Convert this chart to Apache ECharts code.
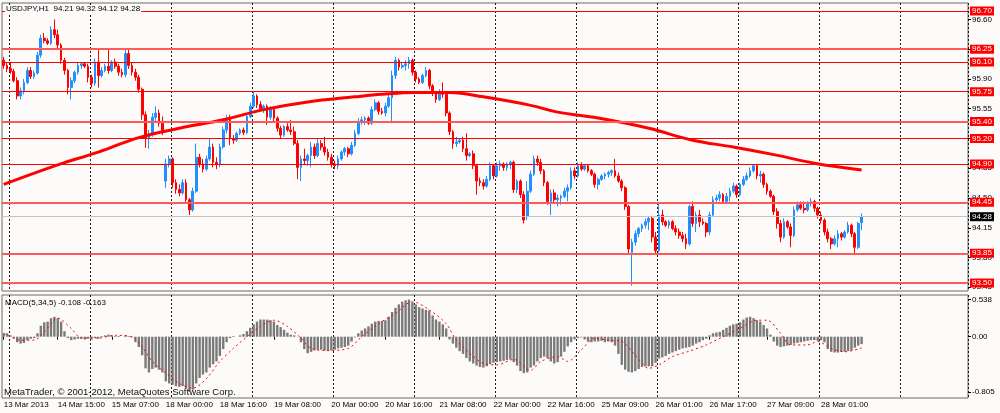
<!DOCTYPE html>
<html>
<head>
<meta charset="utf-8">
<script src="https://cdn.jsdelivr.net/npm/echarts@6/dist/echarts.min.js"></script>
<style>
    html, body { margin: 0; padding: 0; background: #fdfbf9; }
    #chart { width: 1000px; height: 413px; }
</style>
</head>
<body>
<div id="chart"></div>
<script>
// USDJPY H1 bars: [open, high, low, close]
var bars = [
    [96.12,96.16,96.02,96.06],[96.06,96.10,95.98,96.02],[96.02,96.09,95.96,95.99],[95.99,96.02,95.86,95.88],
    [95.88,95.92,95.66,95.70],[95.70,95.80,95.66,95.76],[95.76,95.90,95.72,95.86],[95.86,96.04,95.84,96.00],
    [96.00,96.04,95.90,95.93],[95.93,96.00,95.90,95.97],[95.97,96.22,95.95,96.18],[96.18,96.42,96.15,96.38],
    [96.38,96.44,96.32,96.35],[96.35,96.38,96.30,96.32],[96.32,96.52,96.30,96.48],[96.48,96.60,96.38,96.42],
    [96.42,96.48,96.26,96.30],[96.30,96.32,96.08,96.12],[96.12,96.15,95.95,96.00],[96.00,96.02,95.72,95.80],
    [95.80,95.92,95.66,95.88],[95.88,96.00,95.85,95.98],[95.98,96.10,95.95,96.06],[96.06,96.10,96.02,96.08],
    [96.08,96.10,96.03,96.05],[96.05,96.08,95.86,95.92],[95.92,95.95,95.80,95.85],[95.85,96.14,95.82,96.10],
    [96.10,96.24,95.80,95.94],[95.94,96.04,95.92,96.00],[96.00,96.08,95.98,96.05],[96.05,96.25,95.96,96.00],
    [96.00,96.12,95.98,96.10],[96.10,96.14,96.02,96.05],[96.05,96.08,95.94,95.98],[95.98,96.02,95.92,95.95],
    [95.95,96.24,95.92,96.20],[96.20,96.26,96.02,96.06],[96.06,96.10,95.94,95.98],[95.98,96.02,95.88,95.92],
    [95.92,95.95,95.74,95.78],[95.78,95.80,95.42,95.48],[95.48,95.52,95.09,95.20],[95.20,95.30,95.08,95.26],
    [95.26,95.50,95.22,95.45],[95.45,95.58,95.40,95.50],[95.50,95.54,95.34,95.38],[95.38,95.46,95.24,95.28],
    // 18 Mar
    [94.70,94.96,94.62,94.90],[94.90,95.00,94.86,94.96],[94.96,94.98,94.62,94.68],[94.68,94.72,94.55,94.60],
    [94.60,94.66,94.52,94.56],[94.56,94.72,94.54,94.68],[94.68,94.72,94.44,94.48],[94.48,94.50,94.30,94.36],
    [94.36,94.62,94.34,94.58],[94.58,95.14,94.56,94.98],[94.98,95.02,94.86,94.90],[94.90,94.96,94.80,94.84],
    [94.84,95.00,94.82,94.96],[94.96,95.20,94.94,95.10],[95.10,95.14,94.86,94.92],[94.92,94.98,94.84,94.90],
    [94.90,95.14,94.86,95.10],[95.10,95.34,95.08,95.30],[95.30,95.48,95.26,95.44],[95.44,95.48,95.12,95.20],
    [95.20,95.24,95.14,95.18],[95.18,95.28,95.16,95.26],[95.26,95.32,95.24,95.30],[95.30,95.33,95.24,95.27],
    [95.27,95.50,95.25,95.46],[95.46,95.62,95.44,95.58],[95.58,95.76,95.56,95.70],[95.70,95.72,95.56,95.60],
    [95.60,95.64,95.52,95.55],[95.55,95.60,95.50,95.58],[95.58,95.60,95.36,95.45],[95.45,95.58,95.42,95.54],
    [95.54,95.56,95.40,95.44],[95.44,95.46,95.28,95.32],[95.32,95.35,95.20,95.24],[95.24,95.36,95.22,95.34],
    [95.34,95.38,95.28,95.30],[95.30,95.42,95.24,95.28],[95.28,95.34,95.12,95.14],[95.14,95.18,94.72,94.86],
    [94.86,95.00,94.70,94.96],[94.96,95.08,94.90,94.94],[94.94,95.02,94.88,95.00],[95.00,95.16,94.86,95.10],
    [95.10,95.14,94.96,95.00],[95.00,95.20,94.98,95.14],[95.14,95.18,95.06,95.10],[95.10,95.22,95.00,95.04],
    [95.04,95.08,94.94,94.98],[94.98,95.02,94.86,94.90],[94.90,94.94,94.84,94.88],[94.88,95.00,94.84,94.96],
    [94.96,95.06,94.94,95.04],[95.04,95.10,95.00,95.08],
    // 20 Mar
    [95.08,95.10,94.98,95.02],[95.02,95.16,95.00,95.12],[95.12,95.30,95.10,95.26],[95.26,95.44,95.24,95.40],
    [95.40,95.46,95.36,95.42],[95.42,95.46,95.36,95.44],[95.44,95.46,95.36,95.38],[95.38,95.58,95.36,95.54],
    [95.54,95.66,95.52,95.62],[95.62,95.64,95.48,95.52],[95.52,95.56,95.48,95.50],[95.50,95.62,95.46,95.58],
    [95.58,95.72,95.56,95.68],[95.68,96.00,95.38,95.94],[95.94,96.16,95.90,96.12],[96.12,96.14,96.00,96.04],
    [96.04,96.10,96.02,96.06],[96.06,96.12,96.00,96.08],[96.08,96.16,96.02,96.12],[96.12,96.14,95.94,95.98],
    [95.98,96.00,95.86,95.90],[95.90,95.92,95.84,95.86],[95.86,95.96,95.84,95.94],[95.94,96.04,95.92,96.00],
    [96.00,96.02,95.78,95.82],[95.82,95.84,95.70,95.74],[95.74,95.76,95.62,95.66],[95.66,95.78,95.64,95.74],
    [95.74,95.86,95.68,95.72],[95.72,95.74,95.46,95.50],[95.50,95.52,95.24,95.28],[95.28,95.30,95.08,95.14],
    [95.14,95.22,95.10,95.16],[95.16,95.20,95.14,95.18],[95.18,95.22,95.04,95.08],[95.08,95.26,94.94,95.00],
    [95.00,95.04,94.98,95.02],[95.02,95.06,94.84,94.88],[94.88,94.90,94.54,94.70],[94.70,94.74,94.64,94.68],
    [94.68,94.72,94.60,94.64],[94.64,94.76,94.62,94.72],[94.72,94.92,94.70,94.88],[94.88,94.90,94.72,94.76],
    [94.76,94.92,94.74,94.88],[94.88,94.94,94.82,94.90],[94.90,94.92,94.82,94.86],[94.86,94.92,94.82,94.90],
    [94.90,94.94,94.84,94.92],[94.92,94.94,94.56,94.60],[94.60,94.72,94.56,94.70],[94.70,94.72,94.50,94.54],
    [94.54,94.58,94.20,94.24],
    // 22 Mar afternoon
    [94.28,94.70,94.24,94.58],[94.58,94.82,94.56,94.78],[94.78,95.00,94.76,94.96],[94.96,95.00,94.88,94.92],
    [94.92,94.96,94.78,94.82],[94.82,94.84,94.64,94.68],[94.68,94.70,94.42,94.46],[94.46,94.60,94.30,94.56],
    [94.56,94.60,94.44,94.48],[94.48,94.54,94.40,94.50],[94.50,94.54,94.42,94.52],[94.52,94.62,94.50,94.58],
    [94.58,94.66,94.46,94.62],[94.62,94.86,94.60,94.82],[94.82,94.86,94.72,94.76],[94.76,94.92,94.74,94.88],
    [94.88,94.92,94.82,94.84],[94.84,94.90,94.82,94.88],[94.88,94.90,94.80,94.82],[94.82,94.84,94.76,94.78],
    [94.78,94.80,94.62,94.66],[94.66,94.74,94.60,94.72],[94.72,94.78,94.70,94.76],[94.76,94.80,94.72,94.78],
    [94.78,94.82,94.74,94.80],[94.80,94.84,94.76,94.82],[94.82,94.96,94.74,94.76],[94.76,94.80,94.68,94.70],
    [94.70,94.72,94.58,94.62],[94.62,94.64,94.36,94.40],[94.40,94.42,93.84,93.90],[93.86,94.02,93.47,93.98],
    [93.98,94.12,93.94,94.08],[94.08,94.16,94.04,94.14],[94.14,94.20,94.10,94.18],[94.18,94.26,94.14,94.22],
    [94.22,94.28,94.12,94.26],[94.26,94.28,93.98,94.04],[94.04,94.10,93.84,93.88],[93.88,94.44,93.86,94.30],
    [94.30,94.36,94.18,94.22],[94.22,94.24,94.16,94.18],[94.18,94.24,94.14,94.22],[94.22,94.24,94.12,94.14],
    [94.14,94.18,94.06,94.10],[94.10,94.14,94.02,94.06],[94.06,94.10,93.98,94.02],[94.02,94.08,93.90,93.96],
    [93.96,94.42,93.94,94.40],[94.40,94.46,94.16,94.20],[94.20,94.34,94.10,94.30],[94.30,94.36,94.16,94.22],
    [94.22,94.26,94.18,94.20],[94.20,94.22,94.04,94.10],[94.10,94.34,94.06,94.30],[94.30,94.52,94.28,94.48],
    [94.48,94.54,94.44,94.50],[94.50,94.58,94.46,94.54],[94.54,94.56,94.44,94.46],[94.46,94.56,94.44,94.52],
    [94.52,94.62,94.46,94.58],[94.58,94.68,94.56,94.64],[94.64,94.66,94.50,94.54],[94.54,94.68,94.52,94.66],
    [94.66,94.76,94.64,94.72],[94.72,94.80,94.70,94.76],[94.76,94.86,94.74,94.82],[94.82,94.90,94.80,94.88],
    [94.88,94.90,94.72,94.76],[94.76,94.82,94.68,94.78],[94.78,94.80,94.62,94.66],[94.66,94.68,94.54,94.58],
    [94.58,94.60,94.50,94.52],[94.52,94.54,94.30,94.34],[94.34,94.38,94.14,94.20],[94.20,94.24,93.98,94.04],
    [94.04,94.26,94.02,94.22],[94.22,94.24,94.14,94.16],[94.16,94.20,93.92,94.06],[94.06,94.40,94.04,94.36],
    [94.36,94.46,94.34,94.42],[94.42,94.46,94.36,94.38],[94.38,94.46,94.32,94.36],[94.36,94.46,94.34,94.44],
    [94.44,94.50,94.40,94.46],[94.46,94.48,94.34,94.38],[94.38,94.40,94.26,94.30],[94.30,94.34,94.20,94.24],
    [94.24,94.26,94.06,94.10],[94.10,94.14,93.98,94.02],[94.02,94.04,93.90,93.96],[93.96,94.06,93.94,94.02],
    [94.02,94.12,93.92,94.08],[94.08,94.10,94.00,94.04],[94.04,94.12,94.02,94.10],[94.10,94.22,94.08,94.18],
    [94.18,94.20,94.04,94.08],[94.08,94.10,93.84,93.92],[93.92,94.22,93.90,94.20],[94.21,94.32,94.12,94.28]
];

// thick red moving average, sampled at bar index
var maPoints = [
    [0,94.66],[16,94.89],[28,95.04],[40,95.21],[52,95.32],[65,95.42],[77,95.54],[90,95.63],
    [104,95.69],[112,95.72],[122,95.74],[132,95.74],[142,95.69],[156,95.59],[164,95.51],[176,95.44],
    [191,95.32],[204,95.18],[216,95.10],[228,95.01],[240,94.91],[254,94.83]
];

// MACD(5,34,5) histogram, one per bar
var macdHist = [
    0.05,0.05,0.02,-0.02,-0.08,-0.10,-0.09,-0.05,-0.03,-0.02,
    0.05,0.16,0.21,0.22,0.27,0.29,0.27,0.22,0.08,-0.02,
    -0.05,-0.04,-0.03,-0.03,-0.04,-0.03,-0.04,-0.02,-0.03,0.01,
    0.02,0.03,0.02,0.01,0.01,0.00,0.02,0.01,-0.01,-0.08,
    -0.15,-0.27,-0.46,-0.52,-0.47,-0.45,-0.48,-0.52,-0.65,-0.68,
    -0.70,-0.72,-0.73,-0.72,-0.75,-0.80,-0.77,-0.68,-0.60,-0.55,
    -0.52,-0.45,-0.40,-0.36,-0.28,-0.18,-0.08,-0.02,0.01,0.00,
    0.02,0.04,0.08,0.13,0.18,0.22,0.25,0.25,0.25,0.24,
    0.22,0.17,0.14,0.10,0.06,0.03,0.02,0.00,-0.08,-0.18,
    -0.24,-0.22,-0.20,-0.19,-0.19,-0.20,-0.21,-0.20,-0.19,-0.17,
    -0.16,-0.15,-0.13,-0.07,-0.01,0.05,0.09,0.12,0.15,0.19,
    0.22,0.23,0.23,0.24,0.29,0.36,0.42,0.47,0.51,0.53,
    0.54,0.50,0.47,0.43,0.41,0.39,0.38,0.31,0.25,0.22,
    0.18,0.12,-0.04,-0.10,-0.16,-0.21,-0.25,-0.31,-0.36,-0.39,
    -0.42,-0.44,-0.45,-0.43,-0.40,-0.38,-0.37,-0.36,-0.35,-0.34,
    -0.33,-0.37,-0.42,-0.50,-0.53,-0.52,-0.45,-0.42,-0.36,-0.31,
    -0.29,-0.31,-0.36,-0.39,-0.37,-0.29,-0.22,-0.14,-0.08,-0.04,
    -0.02,-0.01,-0.04,-0.07,-0.08,-0.07,-0.07,-0.06,-0.08,-0.07,
    -0.08,-0.13,-0.25,-0.41,-0.48,-0.51,-0.52,-0.50,-0.47,-0.44,
    -0.43,-0.43,-0.43,-0.38,-0.32,-0.30,-0.28,-0.25,-0.23,-0.21,
    -0.19,-0.17,-0.16,-0.15,-0.13,-0.10,-0.08,-0.05,-0.03,0.02,
    0.05,0.06,0.07,0.10,0.13,0.16,0.18,0.19,0.21,0.25,
    0.28,0.29,0.27,0.24,0.22,0.17,0.12,0.03,-0.07,-0.13,
    -0.15,-0.14,-0.13,-0.12,-0.10,-0.09,-0.08,-0.07,-0.06,-0.05,
    -0.05,-0.06,-0.05,-0.08,-0.18,-0.22,-0.23,-0.23,-0.22,-0.22,
    -0.21,-0.20,-0.16,-0.13,-0.108
];

// MACD signal line, sampled at bar index
var macdSignal = [
    [0,0.05],[5,-0.05],[9,-0.05],[12,0.07],[16,0.27],[20,0.12],[23,-0.02],[28,-0.02],[33,0.02],[38,0],
    [41,-0.15],[44,-0.36],[48,-0.53],[52,-0.68],[56,-0.75],[60,-0.61],[64,-0.36],[68,-0.17],[72,0],[76,0.15],
    [80,0.24],[84,0.15],[88,-0.02],[91,-0.17],[96,-0.20],[102,-0.17],[106,0],[111,0.19],[116,0.34],[121,0.51],
    [126,0.39],[131,0.19],[134,-0.05],[138,-0.24],[142,-0.39],[146,-0.41],[151,-0.33],[156,-0.49],[159,-0.36],
    [164,-0.29],[167,-0.36],[171,-0.19],[175,-0.02],[179,-0.05],[183,-0.07],[187,-0.27],[191,-0.46],[194,-0.41],
    [198,-0.29],[203,-0.21],[208,-0.12],[213,0],[218,0.12],[223,0.24],[226,0.24],[230,0.05],[233,-0.12],
    [238,-0.12],[241,-0.07],[245,-0.17],[249,-0.22],[254,-0.163]
];

// horizontal lines drawn on the chart
var levelsThin = [96.70, 96.10, 95.75, 95.20, 94.90];
var levelsThick = [96.25, 95.40, 94.45, 93.85, 93.50];
var lastPrice = 94.28;

// axis labels
var priceTicks = [96.60, 96.25, 95.90, 95.55, 95.20, 94.85, 94.50, 94.15, 93.80, 93.45];
var macdTicks = [0.538, 0, -0.805];
var timeLabelIdx = [0, 16, 32, 48, 64, 80, 97, 113, 129, 145, 161, 177, 193, 209, 226, 242];
var timeLabels = ['13 Mar 2013', '14 Mar 15:00', '15 Mar 07:00', '18 Mar 00:00', '18 Mar 16:00',
    '19 Mar 08:00', '20 Mar 00:00', '20 Mar 16:00', '21 Mar 08:00', '22 Mar 00:00', '22 Mar 16:00',
    '25 Mar 09:00', '26 Mar 01:00', '26 Mar 17:00', '27 Mar 09:00', '28 Mar 01:00'];

var FONT = '"Liberation Sans", Arial, sans-serif';
var BG = '#fdfbf9';
var SLOTS = 286; // chart keeps empty space on the right

var cats = [];
for (var i = 0; i < SLOTS; i++) cats.push(String(i));

var candleData = bars.map(function (b) { return [b[0], b[3], b[2], b[1]]; });
var last = bars[bars.length - 1];

function isGridLine(idx) { return idx % 24 === 2; }
function isTimeLabel(idx) { return timeLabelIdx.indexOf(idx) >= 0; }

var gridSplit = {
    show: true,
    interval: isGridLine,
    lineStyle: { color: '#1a1a1a', width: 1, type: [2, 2] }
};

var levelLines = [];
levelsThin.forEach(function (v) {
    levelLines.push({ yAxis: v, lineStyle: { color: '#ff0000', width: 1, type: 'solid' } });
});
levelsThick.forEach(function (v) {
    levelLines.push({ yAxis: v, lineStyle: { color: '#ff5a5a', width: 2, type: 'solid' } });
});
levelLines.push({
    yAxis: lastPrice,
    lineStyle: { color: '#c4c4c4', width: 1, type: 'solid' },
    label: { backgroundColor: '#000000' }
});

var chart = echarts.init(document.getElementById('chart'));

var option = {
    backgroundColor: BG,
    animation: false,
    textStyle: { fontFamily: FONT },
    grid: [
        { left: 2, right: 32, top: 3, height: 288, show: true, borderColor: '#6a6a6a', borderWidth: 1,
          containLabel: false, outerBoundsMode: 'none' },
        { left: 2, right: 32, top: 295, height: 103, show: true, borderColor: '#6a6a6a', borderWidth: 1,
          containLabel: false, outerBoundsMode: 'none' }
    ],
    xAxis: [
        {
            type: 'category', gridIndex: 0, data: cats, boundaryGap: true,
            axisLine: { show: false }, axisTick: { show: false }, axisLabel: { show: false },
            splitLine: gridSplit
        },
        {
            type: 'category', gridIndex: 1, data: cats, boundaryGap: true,
            axisLine: { show: false },
            axisTick: { show: true, interval: isTimeLabel, alignWithLabel: true, length: 3,
                        lineStyle: { color: '#000' } },
            axisLabel: {
                show: true, interval: isTimeLabel, align: 'left', margin: 3,
                fontSize: 8, color: '#000', fontFamily: FONT,
                formatter: function (v) { return timeLabels[timeLabelIdx.indexOf(Number(v))] || ''; }
            },
            splitLine: gridSplit
        }
    ],
    yAxis: [
        {
            type: 'value', gridIndex: 0, position: 'right', min: 93.406, max: 96.794,
            axisLine: { show: false },
            axisTick: { show: true, customValues: priceTicks, length: 3, lineStyle: { color: '#000' } },
            axisLabel: {
                customValues: priceTicks, margin: 4, fontSize: 8, color: '#000', fontFamily: FONT,
                formatter: function (v) { return Number(v).toFixed(2); }
            },
            splitLine: { show: false }
        },
        {
            type: 'value', gridIndex: 1, position: 'right', min: -0.892, max: 0.607,
            axisLine: { show: false },
            axisTick: { show: true, customValues: macdTicks, length: 3, lineStyle: { color: '#000' } },
            axisLabel: {
                customValues: macdTicks, margin: 4, fontSize: 8, color: '#000', fontFamily: FONT,
                formatter: function (v) { return v === 0 ? '0.00' : Number(v).toFixed(3); }
            },
            splitLine: { show: false }
        }
    ],
    series: [
        {
            name: 'USDJPY', type: 'candlestick', xAxisIndex: 0, yAxisIndex: 0,
            data: candleData, barWidth: 2.2,
            itemStyle: {
                color: '#2090ff', color0: '#ff0000',
                borderColor: '#2090ff', borderColor0: '#ff0000', borderWidth: 1
            },
            markLine: {
                silent: true, symbol: ['none', 'none'], animation: false,
                label: {
                    show: true, position: 'end', distance: 2,
                    fontSize: 8, fontFamily: FONT, color: '#ffffff',
                    backgroundColor: '#ff0000', padding: [1, 2, 0, 2],
                    formatter: function (p) { return Number(p.value).toFixed(2); }
                },
                data: levelLines
            }
        },
        {
            name: 'MA', type: 'line', xAxisIndex: 0, yAxisIndex: 0,
            data: maPoints, smooth: 0.4, symbol: 'none',
            lineStyle: { color: '#ff0000', width: 3 }
        },
        {
            name: 'MACD', type: 'bar', xAxisIndex: 1, yAxisIndex: 1,
            data: macdHist, barWidth: 2.4,
            itemStyle: { color: '#7a7a7a' }
        },
        {
            name: 'Signal', type: 'line', xAxisIndex: 1, yAxisIndex: 1,
            data: macdSignal, smooth: 0.3, symbol: 'none',
            lineStyle: { color: '#ff0000', width: 1, type: [2, 3] }
        }
    ],
    graphic: [
        {
            type: 'text', left: 5, top: 5, z: 100,
            style: {
                text: 'USDJPY,H1  ' + last[0].toFixed(2) + ' ' + last[1].toFixed(2) + ' ' +
                      last[2].toFixed(2) + ' ' + last[3].toFixed(2),
                font: '8px ' + FONT, fill: '#000', backgroundColor: BG, padding: [0, 1]
            }
        },
        {
            type: 'text', left: 5, top: 299, z: 100,
            style: { text: 'MACD(5,34,5) -0.108 -0.163', font: '8px ' + FONT, fill: '#000' }
        },
        {
            type: 'text', left: 4, top: 387, z: 100,
            style: { text: 'MetaTrader, \u00a9 2001-2012, MetaQuotes Software Corp.', font: '9.5px ' + FONT, fill: '#111' }
        }
    ]
};

chart.setOption(option);
</script>
</body>
</html>
